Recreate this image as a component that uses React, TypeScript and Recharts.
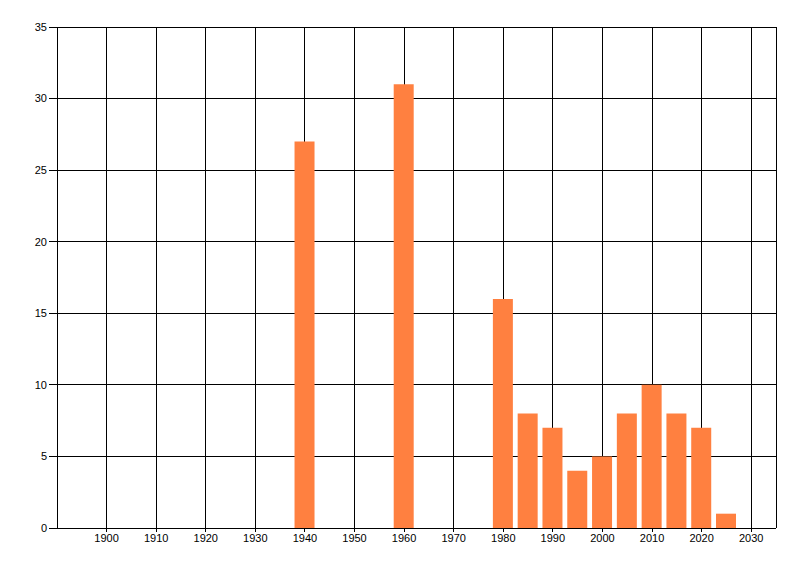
import { BarChart, Bar, XAxis, YAxis, CartesianGrid } from "recharts";

const years = [1940, 1960, 1980, 1985, 1990, 1995, 2000, 2005, 2010, 2015, 2020, 2025];
const counts = [27, 31, 16, 8, 7, 4, 5, 8, 10, 8, 7, 1];
const xTicks = [1900, 1910, 1920, 1930, 1940, 1950, 1960, 1970, 1980, 1990, 2000, 2010, 2020, 2030];
const yTicks = [0, 5, 10, 15, 20, 25, 30, 35];

const data = years.map((year, i) => ({ year, count: counts[i] }));

const tickStyle = { fill: "#000", fontSize: 11, fontFamily: "'Liberation Sans', Arial, sans-serif" };
const lineStyle = { stroke: "#000", shapeRendering: "crispEdges" };

export default function App() {
  return (
    <div style={{ position: "absolute", left: 0, top: 0, width: 800, height: 576, background: "#fff" }}>
      <BarChart width={800} height={576} data={data} margin={{ top: 27, right: 24, bottom: 18, left: 0 }}>
        <CartesianGrid stroke="#000" strokeOpacity={1} shapeRendering="crispEdges" />
        <XAxis
          dataKey="year"
          type="number"
          domain={[1890, 2035]}
          ticks={xTicks}
          interval={0}
          height={30}
          tick={tickStyle}
          tickSize={4}
          axisLine={lineStyle}
          tickLine={lineStyle}
        />
        <YAxis
          type="number"
          domain={[0, 35]}
          ticks={yTicks}
          interval={0}
          width={57}
          tick={tickStyle}
          tickSize={8}
          axisLine={lineStyle}
          tickLine={lineStyle}
        />
        <Bar dataKey="count" fill="#ff8040" barSize={20} isAnimationActive={false} />
      </BarChart>
    </div>
  );
}
